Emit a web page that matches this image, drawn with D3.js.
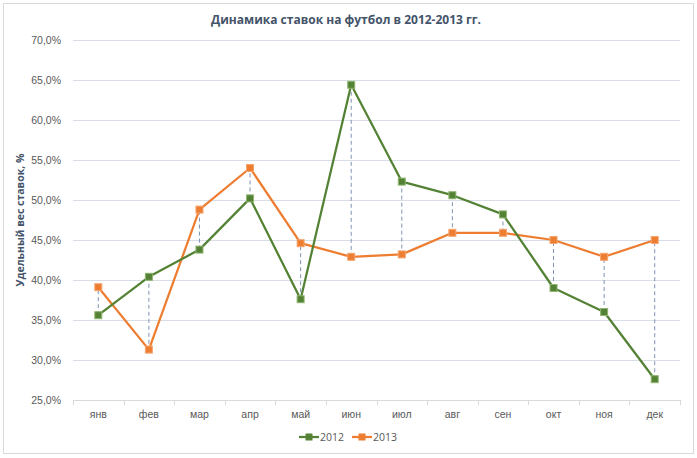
<!DOCTYPE html>
<html><head><meta charset="utf-8">
<script src="https://cdn.jsdelivr.net/npm/d3@7"></script>
<style>
body{margin:0;background:#fff;}
svg{display:block;font-family:"Open Sans","Noto Sans",sans-serif;}
</style></head>
<body>
<svg id="chart" width="697" height="458"></svg>
<script>
const months = ["янв","фев","мар","апр","май","июн","июл","авг","сен","окт","ноя","дек"];
const values2012 = [35.6, 40.4, 43.8, 50.2, 37.6, 64.4, 52.3, 50.6, 48.2, 39.0, 36.0, 27.6];
const values2013 = [39.1, 31.3, 48.8, 54.0, 44.6, 42.9, 43.2, 45.9, 45.9, 45.0, 42.9, 45.0];
const yTicks = [25, 30, 35, 40, 45, 50, 55, 60, 65, 70];
const seriesNames = ["2012", "2013"];
const colors = ["#548235", "#ED7D31"];

const svg = d3.select("#chart");
svg.append("rect").attr("x",3.5).attr("y",3.5).attr("width",690).attr("height",450)
  .attr("fill","#fff").attr("stroke","#d9d9d9");

const m = {left:73, right:680, top:40, bottom:400};
const x = d3.scaleBand().domain(months).range([m.left, m.right]);
const y = d3.scaleLinear().domain([25,70]).range([m.bottom, m.top]);

// gridlines
svg.append("g").selectAll("line").data(yTicks.slice(1)).join("line")
  .attr("x1", m.left).attr("x2", m.right)
  .attr("y1", d=>Math.round(y(d))+0.5).attr("y2", d=>Math.round(y(d))+0.5)
  .attr("stroke","#d9dde6").attr("stroke-width",1);

// y axis labels
const ya = svg.append("g").attr("transform",`translate(${m.left},0)`)
  .call(d3.axisLeft(y).tickValues(yTicks).tickSize(0).tickPadding(12)
    .tickFormat(d=>d3.format(".1f")(d).replace(".",",")+"%"));
ya.select(".domain").remove();
ya.selectAll("text").attr("fill","#595959").style("font-size","10.5px");

// x axis
const xa = svg.append("g").attr("transform",`translate(0,${m.bottom})`)
  .call(d3.axisBottom(x).tickSize(0).tickPadding(11));
xa.select(".domain").attr("stroke","#d9d9d9");
xa.selectAll("text").attr("fill","#595959").style("font-size","10.5px");
// category separator ticks
svg.append("g").selectAll("line").data(months.concat(["end"])).join("line")
  .attr("x1",(d,i)=>Math.round(m.left + i*x.bandwidth())+0.5)
  .attr("x2",(d,i)=>Math.round(m.left + i*x.bandwidth())+0.5)
  .attr("y1",m.bottom).attr("y2",m.bottom+5).attr("stroke","#d9d9d9");

// drop (high-low) lines
svg.append("g").selectAll("line").data(months).join("line")
  .attr("x1",d=>x(d)+x.bandwidth()/2).attr("x2",d=>x(d)+x.bandwidth()/2)
  .attr("y1",(d,i)=>y(values2012[i])).attr("y2",(d,i)=>y(values2013[i]))
  .attr("stroke","#7f93b5").attr("stroke-width",1).attr("stroke-dasharray","4,3");

const cx = d => x(d)+x.bandwidth()/2;
[values2013, values2012].forEach((vals, k) => {
  const idx = k===0 ? 1 : 0;
  const line = d3.line().x((d,i)=>cx(months[i])).y(d=>y(d));
  svg.append("path").datum(vals).attr("d",line).attr("fill","none")
    .attr("stroke",colors[idx]).attr("stroke-width",2.25).attr("stroke-linejoin","round");
});
[values2013, values2012].forEach((vals, k) => {
  const idx = k===0 ? 1 : 0;
  svg.append("g").selectAll("rect").data(vals).join("rect")
    .attr("x",(d,i)=>cx(months[i])-3.5).attr("y",d=>y(d)-3.5)
    .attr("width",7).attr("height",7).attr("fill",colors[idx])
    .attr("stroke", idx===0 ? "#8fb471" : "#f5a46e").attr("stroke-width",1);
});

// title
svg.append("text").attr("x",346).attr("y",24).attr("text-anchor","middle")
  .attr("fill","#44546A").style("font-size","12px").style("font-weight","bold")
  .text("Динамика ставок на футбол в 2012-2013 гг.");

// y axis title
svg.append("text").attr("transform","translate(24,220) rotate(-90)")
  .attr("text-anchor","middle").attr("fill","#44546A")
  .style("font-size","10.5px").style("font-weight","bold")
  .text("Удельный вес ставок, %");

// legend
const lg = svg.append("g").attr("transform","translate(299,437)");
seriesNames.forEach((n,i)=>{
  const g = lg.append("g").attr("transform",`translate(${i*53},0)`);
  g.append("line").attr("x1",0).attr("x2",20).attr("y1",0).attr("y2",0)
    .attr("stroke",colors[i]).attr("stroke-width",2.25);
  g.append("rect").attr("x",6.5).attr("y",-3.5).attr("width",7).attr("height",7)
    .attr("fill",colors[i]);
  g.append("text").attr("x",21).attr("y",4).attr("fill","#595959")
    .style("font-size","10.5px").text(n);
});
</script>
</body></html>
